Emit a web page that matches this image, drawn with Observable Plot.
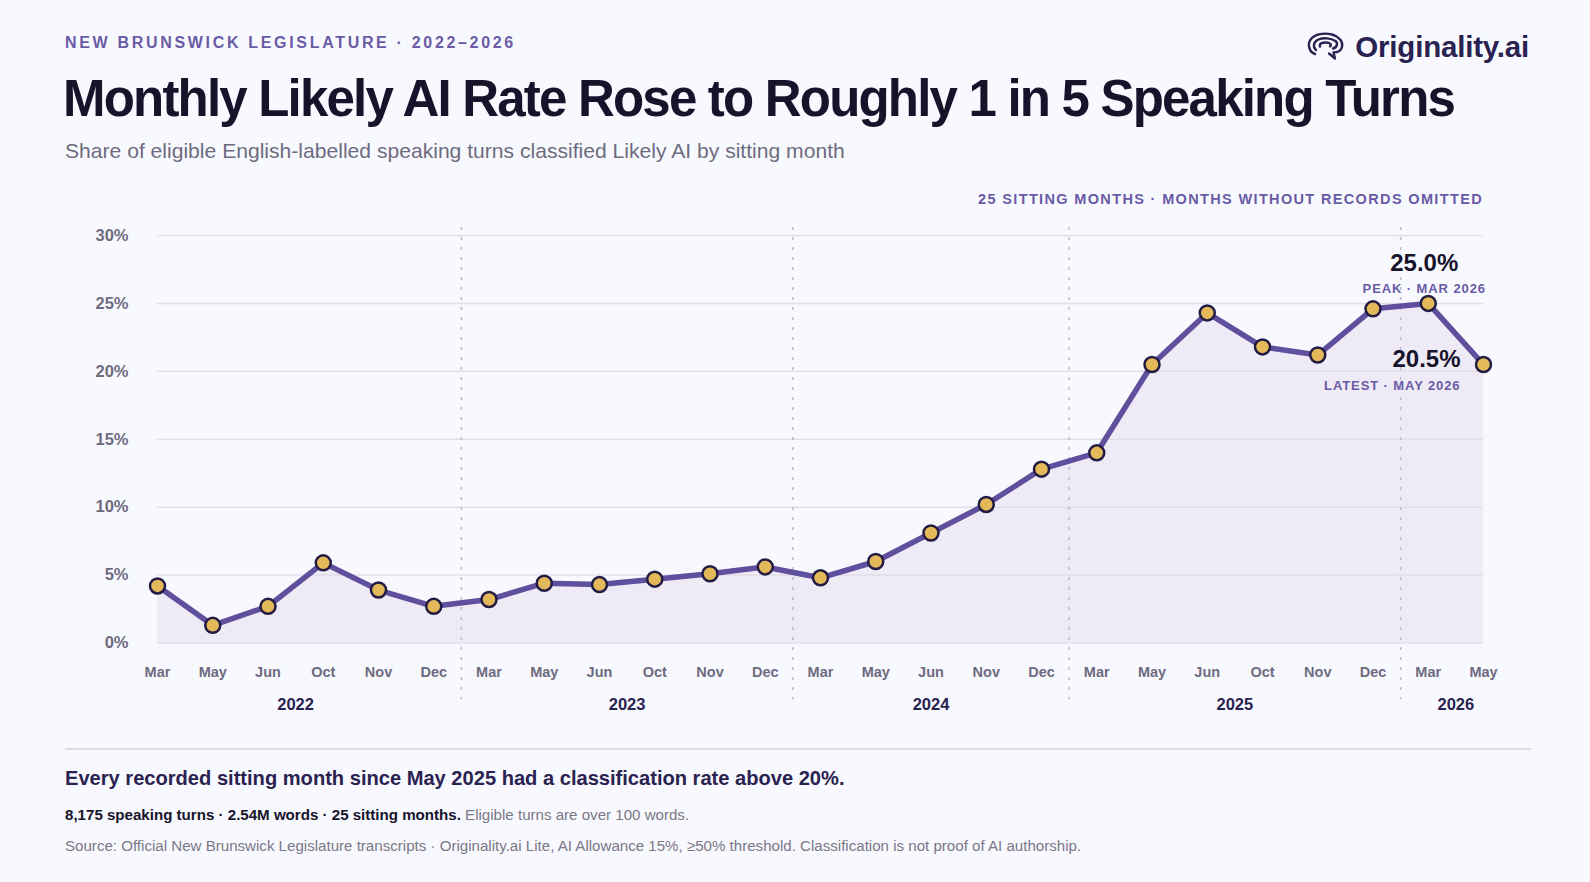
<!DOCTYPE html>
<html><head><meta charset="utf-8">
<script src="https://cdn.jsdelivr.net/npm/d3@7"></script>
<script src="https://cdn.jsdelivr.net/npm/@observablehq/plot@0.6"></script>
<style>
body{margin:0;background:#f8f9fe;font-family:"Liberation Sans",Arial,sans-serif;}
#page{position:relative;width:1590px;height:882px;overflow:hidden;background:#f8f9fe;}
.abs{position:absolute;white-space:nowrap;line-height:1;}
#chart{position:absolute;left:0;top:210px;}
</style></head><body><div id="page">
<div class="abs" style="left:65px;top:35px;font-size:16px;font-weight:700;letter-spacing:2.68px;color:#6a5ba6">NEW BRUNSWICK LEGISLATURE · 2022–2026</div>
<div class="abs" style="left:63px;top:73px;font-size:51px;font-weight:700;letter-spacing:-1.8px;color:#16132b">Monthly Likely AI Rate Rose to Roughly 1 in 5 Speaking Turns</div>
<div class="abs" style="left:65px;top:140px;font-size:21.1px;color:#6e6b80">Share of eligible English-labelled speaking turns classified Likely AI by sitting month</div>
<div class="abs" style="right:61px;top:31px;display:flex;align-items:center;gap:9px;">
<svg width="40" height="32" viewBox="0 0 40 32" fill="none" stroke="#2a2250" stroke-width="2.4" stroke-linecap="round" stroke-linejoin="round">
<path d="M9 23 C3 21 1 13 5 8 C9 3 18 1.5 26 3.5 C33 5.5 37.5 10.5 36 16 C35 20 31 21.5 27.5 21.5 L29 27.5 L23 22.5"/>
<path d="M10 19 C6.5 16 7.5 10.5 12.5 8.5 C17.5 6.5 25 7 29.5 10 C32 12 31.5 16.5 27 17.5"/>
<path d="M14 15.5 C13 12.5 16 11.5 20 11.5 C24 11.5 26 13.5 24 15.5"/>
</svg>
<span style="font-size:29.5px;font-weight:700;color:#2a2250;letter-spacing:-0.2px">Originality.ai</span>
</div>
<div class="abs" style="right:107px;top:192px;font-size:14.5px;font-weight:700;letter-spacing:1.35px;color:#6a5ba6">25 SITTING MONTHS · MONTHS WITHOUT RECORDS OMITTED</div>
<div id="chart"></div>
<div class="abs" style="left:65px;top:748px;width:1466px;height:1.5px;background:#dddbe6"></div>
<div class="abs" style="left:65px;top:768px;font-size:20.1px;font-weight:700;color:#2a2250">Every recorded sitting month since May 2025 had a classification rate above 20%.</div>
<div class="abs" style="left:65px;top:807px;font-size:15.1px;color:#7a7788"><b style="color:#16132b">8,175 speaking turns · 2.54M words · 25 sitting months.</b> Eligible turns are over 100 words.</div>
<div class="abs" style="left:65px;top:838px;font-size:15.1px;color:#7a7788">Source: Official New Brunswick Legislature transcripts · Originality.ai Lite, AI Allowance 15%, ≥50% threshold. Classification is not proof of AI authorship.</div>
</div>
<script>
const months = ["Mar","May","Jun","Oct","Nov","Dec","Mar","May","Jun","Oct","Nov","Dec","Mar","May","Jun","Nov","Dec","Mar","May","Jun","Oct","Nov","Dec","Mar","May"];
const years = [2022,2022,2022,2022,2022,2022,2023,2023,2023,2023,2023,2023,2024,2024,2024,2024,2024,2025,2025,2025,2025,2025,2025,2026,2026];
const rates = [4.2,1.3,2.7,5.9,3.9,2.7,3.2,4.4,4.3,4.7,5.1,5.6,4.8,6.0,8.1,10.2,12.8,14.0,20.5,24.3,21.8,21.2,24.6,25.0,20.5];
const yTicks = [0,5,10,15,20,25,30];

const data = months.map((m,i)=>({i, month:m, year:years[i], rate:rates[i]}));
const yearGroups = d3.groups(data, d=>d.year).map(([y,g])=>({year:y, mid:d3.mean(g,d=>d.i)}));
const seps = data.filter((d,k)=>k>0 && data[k-1].year!==d.year).map(d=>d.i-0.5);
const peak = data[d3.maxIndex(data,d=>d.rate)];
const latest = data[data.length-1];

const chart = Plot.plot({
  width:1590, height:510,
  marginTop:25, marginBottom:77.5, marginLeft:157, marginRight:107,
  style:{background:"transparent", fontFamily:"'Liberation Sans', Arial, sans-serif", overflow:"visible"},
  x:{domain:[0,data.length-1], axis:null},
  y:{domain:[0,30], axis:null},
  marks:[
    Plot.areaY(data,{x:"i", y:"rate", fill:"#efebf6"}),
    Plot.ruleY(yTicks,{stroke:"#dedbe8", strokeWidth:1.5, strokeOpacity:0.85}),
    Plot.ruleX(seps,{stroke:"#bcb9cb", strokeWidth:1.5, strokeDasharray:"3,7", insetTop:-8, insetBottom:-57}),
    Plot.line(data,{x:"i", y:"rate", stroke:"#5f4f9c", strokeWidth:5.5, strokeLinejoin:"round", strokeLinecap:"round"}),
    Plot.dot(data,{x:"i", y:"rate", r:7.5, fill:"#e3b95a", stroke:"#221c45", strokeWidth:2.5}),
    Plot.axisY(yTicks,{tickSize:0, tickPadding:29, tickFormat:d=>d+"%", fontSize:16.5, fontWeight:700, fill:"#6e6b80", label:null}),
    Plot.text(data,{x:"i", text:"month", frameAnchor:"bottom", dy:33.5, fontSize:14.5, fontWeight:700, fill:"#6e6b80"}),
    Plot.text(yearGroups,{x:"mid", text:d=>String(d.year), frameAnchor:"bottom", dy:66.5, fontSize:16.5, fontWeight:700, fill:"#2a2250"}),
    Plot.text([peak],{x:"i", y:"rate", text:d=>d.rate.toFixed(1)+"%", dx:-4, dy:-40, fontSize:24, fontWeight:700, fill:"#16132b"}),
    Plot.text([peak],{x:"i", y:"rate", text:d=>`PEAK · ${d.month.toUpperCase()} ${d.year}`, dx:-4, dy:-15, fontSize:13, fontWeight:700, fill:"#6a5ba6", className:"lsp"}),
    Plot.text([latest],{x:"i", y:"rate", text:d=>d.rate.toFixed(1)+"%", dx:-23, dy:-5, textAnchor:"end", fontSize:24, fontWeight:700, fill:"#16132b"}),
    Plot.text([latest],{x:"i", y:"rate", text:d=>`LATEST · ${d.month.toUpperCase()} ${d.year}`, dx:-23, dy:21, textAnchor:"end", fontSize:13, fontWeight:700, fill:"#6a5ba6", className:"lsp"})
  ]
});
d3.select(chart).selectAll(".lsp text").style("letter-spacing","0.9px");
document.getElementById("chart").appendChild(chart);
</script>
</body></html>
